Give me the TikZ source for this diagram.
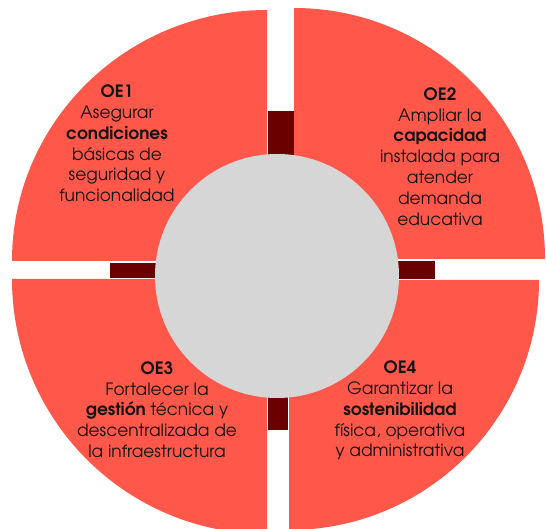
\documentclass[tikz,border=0pt]{standalone}
\usepackage{fontspec}
\setmainfont{texgyreadventor}[Extension=.otf, UprightFont=*-regular, BoldFont=*-bold, ItalicFont=*-italic, BoldItalicFont=*-bolditalic]
\definecolor{coral}{RGB}{255,88,75}
\definecolor{darkred}{RGB}{107,0,0}
\definecolor{hubgrey}{RGB}{214,214,214}
\definecolor{txt}{RGB}{20,20,20}
\tikzset{
  sector/.style={fill=coral, draw=none},
  link/.style={fill=darkred, draw=none},
  hub/.style={circle, fill=hubgrey, draw=none, inner sep=0pt, minimum size=244pt},
  label/.style={align=center, anchor=north, inner sep=0pt, text=txt, font=\fontsize{17}{20.8}\selectfont}
}
\begin{document}
\begin{tikzpicture}[x=1pt,y=1pt]
\useasboundingbox (0,0) rectangle (546,528);
\begin{scope}
\clip (0,0) rectangle (546,528);
% sectors
\path[sector] (267,267) -- (12,267) arc[start angle=180, end angle=90, x radius=255, y radius=251] -- cycle;
\path[sector] (294,269) -- (294,520) arc[start angle=90, end angle=0, radius=251] -- cycle;
\path[sector] (267,249) -- (12,249) arc[start angle=180, end angle=270, radius=255] -- cycle;
\path[sector] (289,248) -- (539,248) arc[start angle=0, end angle=-90, radius=250] -- cycle;
\end{scope}
% links
\path[link] (268,328) rectangle (294,417);
\path[link] (110,250) rectangle (200,265);
\path[link] (355,249) rectangle (435,267.3);
\path[link] (268,98) rectangle (288.3,178);
% hub
\node[hub] (hub) at (277,252) {};
% labels
\node[label] (oe1) at (117,443.3) {\textbf{OE1}\\Asegurar\\\textbf{condiciones}\\básicas de\\seguridad y\\funcionalidad};
\node[label] (oe2) at (440,440.7) {\textbf{OE2}\\Ampliar la\\\textbf{capacidad}\\instalada para\\atender\\demanda\\educativa};
\node[label] (oe3) at (157,166.6) {\textbf{OE3}\\Fortalecer la\\\textbf{gestión} técnica y\\descentralizada de\\la infraestructura};
\node[label] (oe4) at (400,167.3) {\textbf{OE4}\\Garantizar la\\\textbf{sostenibilidad}\\física, operativa\\y administrativa};
\end{tikzpicture}
\end{document}
